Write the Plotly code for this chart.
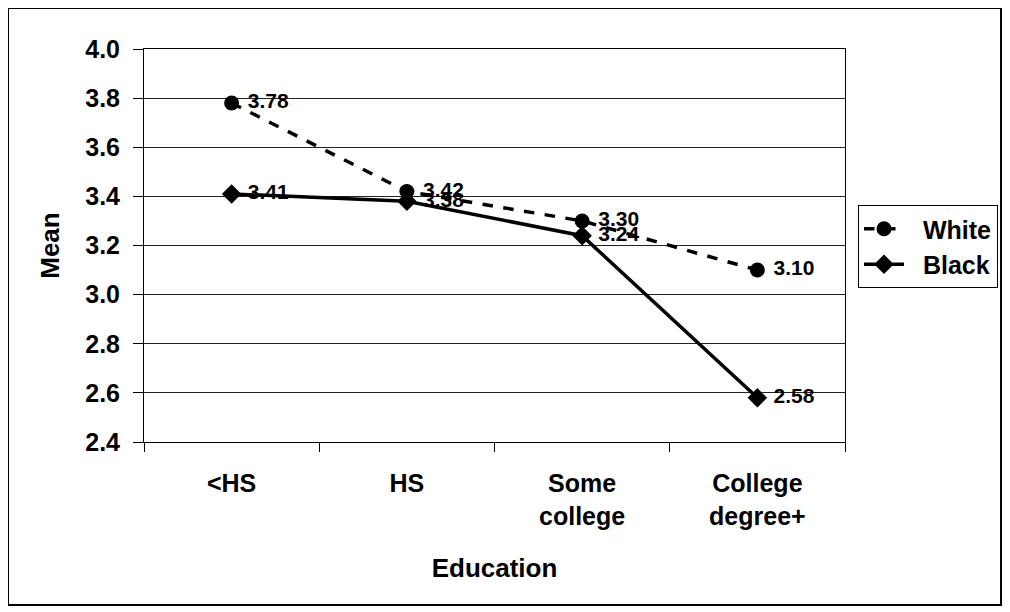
import plotly.graph_objects as go

categories = ["<HS", "HS", "Some<br>college", "College<br>degree+"]
white_values = [3.78, 3.42, 3.30, 3.10]
black_values = [3.41, 3.38, 3.24, 2.58]
white_labels = ["3.78", "3.42", "3.30", "3.10"]
black_labels = ["3.41", "3.38", "3.24", "2.58"]
y_ticks = [2.4, 2.6, 2.8, 3.0, 3.2, 3.4, 3.6, 3.8, 4.0]
y_tick_labels = ["2.4", "2.6", "2.8", "3.0", "3.2", "3.4", "3.6", "3.8", "4.0"]
series_names = ["White", "Black"]

FONT = "Arial, Liberation Sans, sans-serif"
NB = "\u00a0"

# page is rendered with an 8px body margin; work in figure coordinates
W, H = 1002, 604
L, T = 136, 41
PW, PH = 701, 393
R = W - L - PW
B = H - T - PH


def px(x):
    return (x - L) / PW


def py(y):
    return (T + PH - y) / PH


fig = go.Figure()
fig.add_trace(go.Scatter(
    x=categories, y=white_values, name=NB * 2 + "<b>%s</b>" % series_names[0],
    mode="lines+markers+text",
    line=dict(color="black", width=3.5, dash="dash"),
    marker=dict(symbol="circle", size=15, color="black"),
    text=[NB + "<b>%s</b>" % t for t in white_labels], textposition="middle right",
    textfont=dict(family=FONT, size=21, color="black"),
))
fig.add_trace(go.Scatter(
    x=categories, y=black_values, name=NB * 2 + "<b>%s</b>" % series_names[1],
    mode="lines+markers+text",
    line=dict(color="black", width=3.5),
    marker=dict(symbol="diamond", size=15, color="black"),
    text=[NB + "<b>%s</b>" % t for t in black_labels], textposition="middle right",
    textfont=dict(family=FONT, size=21, color="black"),
))

fig.update_layout(
    width=W, height=H,
    margin=dict(l=L, r=R, t=T, b=B, pad=0, autoexpand=False),
    paper_bgcolor="white", plot_bgcolor="white",
    font=dict(family=FONT, color="black"),
    showlegend=True,
    legend=dict(
        x=px(850), y=py(197), xanchor="left", yanchor="top",
        bordercolor="black", borderwidth=1, bgcolor="white",
        font=dict(family=FONT, size=25, color="black"),
        itemwidth=40, tracegroupgap=0,
    ),
    xaxis=dict(
        type="category", range=[-0.5, 3.5],
        tickvals=categories, ticktext=["<b>%s</b>" % c for c in categories],
        showline=True, linecolor="black", linewidth=1, mirror=True,
        ticks="outside", ticklen=9, tickcolor="black", tickson="boundaries",
        showgrid=False,
        tickfont=dict(family=FONT, size=25, color="black"),
        ticklabelstandoff=19,
        title=dict(text="<b>Education</b>", font=dict(family=FONT, size=26, color="black"), standoff=30),
        automargin=False,
    ),
    yaxis=dict(
        range=[2.4, 4.0],
        tickvals=y_ticks, ticktext=["<b>%s</b>" % t for t in y_tick_labels],
        showline=True, linecolor="black", linewidth=1, mirror=True,
        ticks="outside", ticklen=10, tickcolor="black",
        showgrid=True, gridcolor="#222", gridwidth=1,
        tickfont=dict(family=FONT, size=25, color="black"),
        ticklabelstandoff=8,
        title=dict(text="<b>Mean</b>", font=dict(family=FONT, size=26, color="black"), standoff=18),
        zeroline=False,
        automargin=False,
    ),
)

fig.add_shape(type="rect", xref="paper", yref="paper",
              x0=px(0), x1=px(993), y0=py(597), y1=py(0),
              line=dict(color="black", width=2), fillcolor="rgba(0,0,0,0)", layer="below")

fig.write_html("out.html")
